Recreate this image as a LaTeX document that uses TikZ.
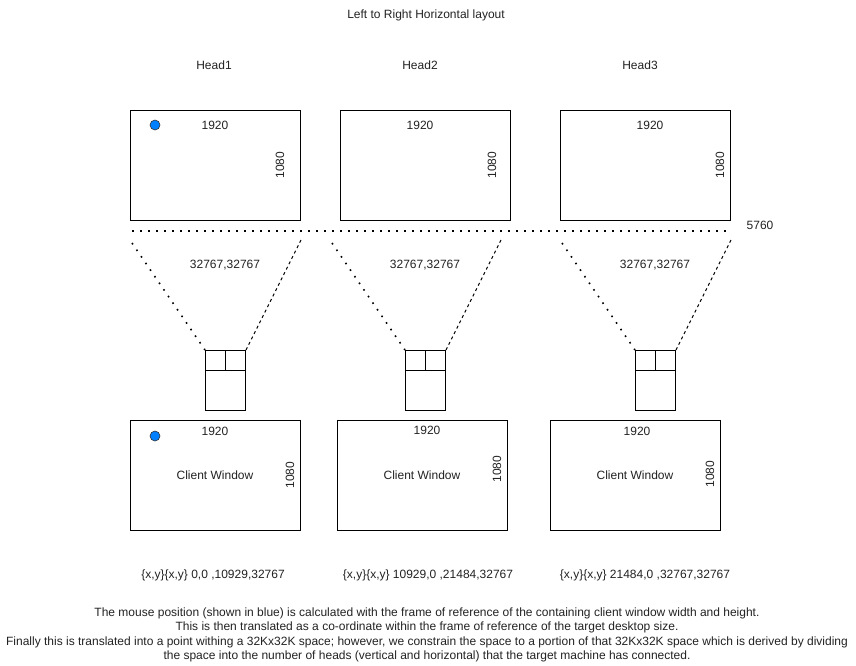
\documentclass[tikz,border=0pt]{standalone}
\usepackage{fontspec}
\setmainfont{Liberation Sans}
\usetikzlibrary{calc}
\definecolor{dotblue}{HTML}{007FFF}
\definecolor{txt}{HTML}{222222}
\tikzset{
  scr/.style={draw=black, line width=1pt, minimum width=170pt, minimum height=110pt, anchor=north west, inner sep=0pt},
  mbox/.style={draw=black, line width=1pt, minimum width=40pt, minimum height=60pt, anchor=north west, inner sep=0pt},
  lbl/.style={font=\fontsize{12pt}{14.4pt}\selectfont, text=txt, inner sep=0pt},
  vlbl/.style={lbl, rotate=90},
  mdot/.style={circle, fill=dotblue, draw=black!80, line width=0.6pt, minimum size=10pt, inner sep=0pt},
  dotline/.style={line width=1.6pt, dash pattern=on 1.6pt off 6.4pt, line cap=butt},
  dashline/.style={line width=1pt, dash pattern=on 3pt off 3pt},
  solid1/.style={line width=1pt},
}
\begin{document}
\begin{tikzpicture}[x=1pt,y=-1pt]
\useasboundingbox (0,0) rectangle (856,665);

% title and heads
\node[lbl] (title) at (426,15) {Left to Right Horizontal layout};
\node[lbl] (h1) at (214,65) {Head1};
\node[lbl] (h2) at (420,65) {Head2};
\node[lbl] (h3) at (640,65) {Head3};

% top screens
\node[scr] (s1) at (130,110) {};
\node[scr] (s2) at (340,110) {};
\node[scr] (s3) at (560,110) {};
\node[mdot] (d1) at (155,125) {};
\node[lbl] (s1w) at (215,125) {1920};
\node[lbl] (s2w) at (420,125) {1920};
\node[lbl] (s3w) at (650,125) {1920};
\node[vlbl] (s1h) at (280,165) {1080};
\node[vlbl] (s2h) at (492,165) {1080};
\node[vlbl] (s3h) at (720,165) {1080};

% dotted total line
\coordinate (tl) at (132,231);
\coordinate (tr) at (730,231);
\draw[dotline] (tl) -- (tr);
\node[lbl] (w5760) at (760,225) {5760};

% mouse boxes
\node[mbox] (m1) at (205,350) {};
\node[mbox] (m2) at (405,350) {};
\node[mbox] (m3) at (635,350) {};
\foreach \m in {m1,m2,m3}{
  \draw[solid1] (\m.north) -- ($(\m.north)+(0,20)$);
  \draw[solid1] ($(\m.north west)+(0,20)$) -- ($(\m.north east)+(0,20)$);
}

% projection lines
\coordinate (a1) at (132,243);
\coordinate (b1) at (301,240);
\coordinate (a2) at (332,243);
\coordinate (b2) at (501,240);
\coordinate (a3) at (562,243);
\coordinate (b3) at (731,240);
\draw[dotline] (a1) -- (m1.north west);
\draw[dashline] (b1) -- (m1.north east);
\draw[dotline] (a2) -- (m2.north west);
\draw[dashline] (b2) -- (m2.north east);
\draw[dotline] (a3) -- (m3.north west);
\draw[dashline] (b3) -- (m3.north east);

\node[lbl] (c1) at (225,265) {32767,32767};
\node[lbl] (c2) at (425,265) {32767,32767};
\node[lbl] (c3) at (655,265) {32767,32767};

% client windows
\node[scr] (w1) at (130,420) {};
\node[scr] (w2) at (337,420) {};
\node[scr] (w3) at (550,420) {};
\node[mdot] (d2) at (155,436) {};
\node[lbl] (w1w) at (215,431) {1920};
\node[lbl] (w2w) at (427,430) {1920};
\node[lbl] (w3w) at (637,431) {1920};
\node[lbl] (w1c) at (215,475) {Client Window};
\node[lbl] (w2c) at (422,475) {Client Window};
\node[lbl] (w3c) at (635,475) {Client Window};
\node[vlbl] (w1h) at (290,475) {1080};
\node[vlbl] (w2h) at (497,469) {1080};
\node[vlbl] (w3h) at (710,474) {1080};

% ranges
\node[lbl] (r1) at (213,575) {\{x,y\}\{x,y\} 0,0 ,10929,32767};
\node[lbl] (r2) at (428,575) {\{x,y\}\{x,y\} 10929,0 ,21484,32767};
\node[lbl] (r3) at (645,575) {\{x,y\}\{x,y\} 21484,0 ,32767,32767};

% explanation
\node[lbl, align=center, font=\fontsize{12pt}{14.4pt}\selectfont] (expl) at (427,635) {The mouse position (shown in blue) is calculated with the frame of reference of the containing client window width and height.\\
This is then translated as a co-ordinate within the frame of reference of the target desktop size.\\
Finally this is translated into a point withing a 32Kx32K space; however, we constrain the space to a portion of that 32Kx32K space which is derived by dividing\\
the space into the number of heads (vertical and horizontal) that the target machine has connected.};
\end{tikzpicture}
\end{document}
